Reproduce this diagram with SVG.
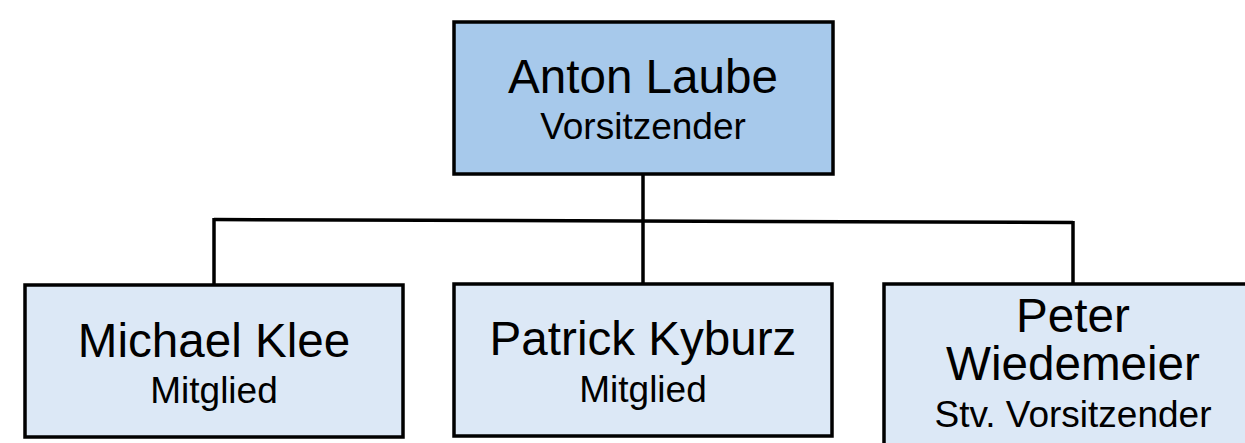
<svg xmlns="http://www.w3.org/2000/svg" width="1245" height="443" viewBox="0 0 1245 443">
<style>
.box{stroke:#000;stroke-width:3.5}
.top{fill:#a7c9eb}
.sub{fill:#dce8f6}
.name{font-family:"Liberation Sans",Arial,sans-serif;font-size:47.6px;fill:#000;text-anchor:middle}
.role{font-family:"Liberation Sans",Arial,sans-serif;font-size:37px;fill:#000;text-anchor:middle}
.conn{stroke:#000;stroke-width:3.5;fill:none}
</style>
<rect width="1245" height="443" fill="#fff"/>
<g id="connectors">
<line class="conn" x1="643" y1="174" x2="643" y2="284"/>
<line class="conn" x1="214" y1="219.5" x2="1073" y2="222.5"/>
<line class="conn" x1="214" y1="218" x2="214" y2="285"/>
<line class="conn" x1="1073" y1="221" x2="1073" y2="284"/>
</g>
<g id="anton">
<rect class="box top" x="454" y="22" width="379" height="152"/>
<text class="name" x="643" y="93">Anton Laube</text>
<text class="role" x="643" y="139">Vorsitzender</text>
</g>
<g id="michael">
<rect class="box sub" x="25" y="285" width="378" height="152"/>
<text class="name" x="214" y="357">Michael Klee</text>
<text class="role" x="214" y="403">Mitglied</text>
</g>
<g id="patrick">
<rect class="box sub" x="454" y="284" width="378" height="152"/>
<text class="name" x="643" y="355">Patrick Kyburz</text>
<text class="role" x="643" y="402">Mitglied</text>
</g>
<g id="peter">
<rect class="box sub" x="884" y="284" width="380" height="175"/>
<text class="name" x="1073" y="332">Peter</text>
<text class="name" x="1073" y="380">Wiedemeier</text>
<text class="role" x="1073" y="427">Stv. Vorsitzender</text>
</g>
</svg>
